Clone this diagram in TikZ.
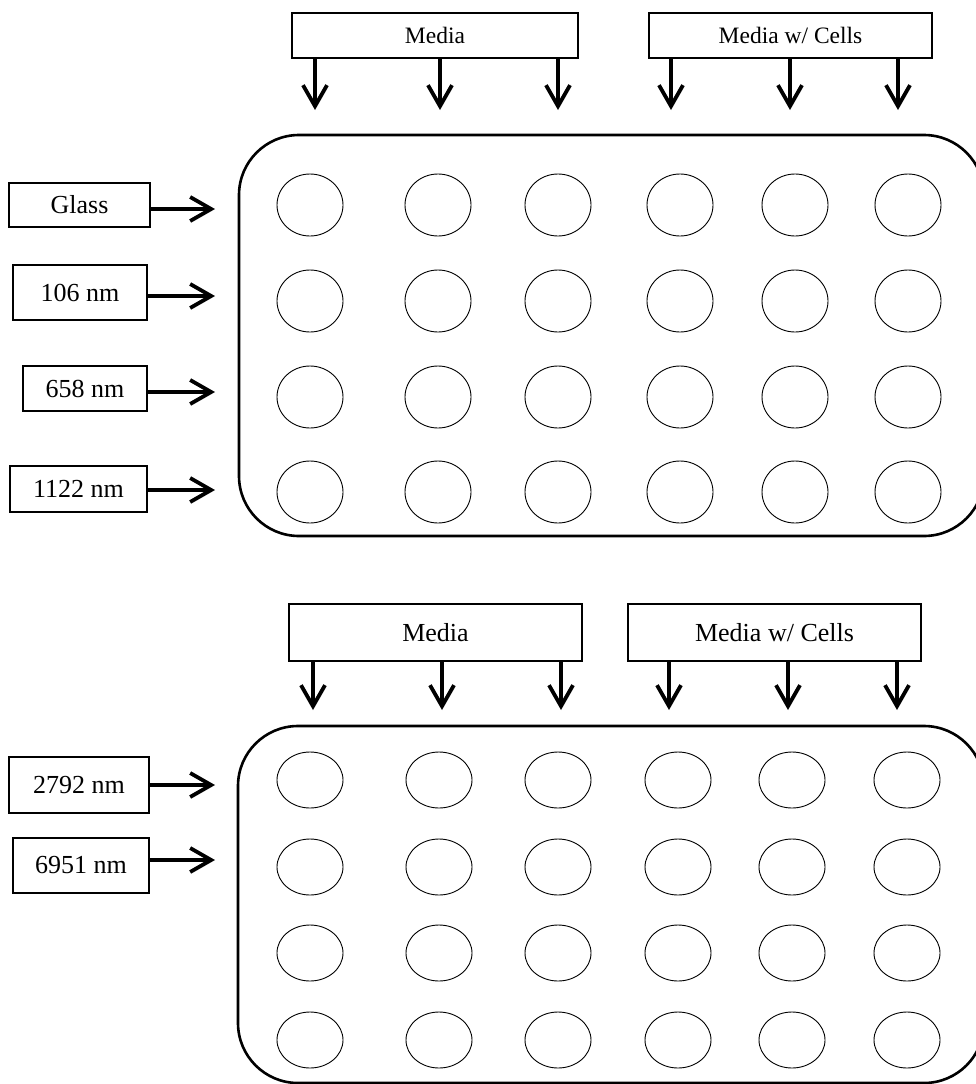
\documentclass[tikz,border=0pt]{standalone}
\usepackage{fontspec}
\setmainfont{Liberation Serif}
\usetikzlibrary{arrows.meta,shapes.geometric}
\begin{document}
\begin{tikzpicture}[x=1pt,y=-1pt,
  plate/.style={draw,line width=2.6pt,rounded corners=60pt,inner sep=0pt},
  wellU/.style={draw,ellipse,line width=0.9pt,minimum width=66pt,minimum height=62pt,inner sep=0pt},
  wellL/.style={draw,ellipse,line width=0.9pt,minimum width=66pt,minimum height=56pt,inner sep=0pt},
  lbl/.style={draw,line width=1.6pt,inner sep=0pt,font=\fontsize{26}{30}\selectfont},
  lblsmall/.style={lbl,font=\fontsize{23.5}{28}\selectfont},
  arrowline/.style={line width=3.8pt,-{Straight Barb[length=21pt,width=24pt]}}]
\useasboundingbox (0,0) rectangle (975,1084);
% ---------- upper plate ----------
\node[plate,minimum width=745pt,minimum height=401pt] (plateU) at (611.5,335.5) {};
\foreach \r/\y in {1/205,2/301,3/397,4/492}{
  \foreach \c/\x in {1/310,2/438,3/558,4/680,5/795,6/908}{
    \node[wellU] (u\r\c) at (\x,\y) {};
  }
}
\node[lblsmall,minimum width=286pt,minimum height=45pt] (mediaU) at (435,35.5) {Media};
\node[lblsmall,minimum width=283pt,minimum height=45pt] (cellsU) at (790.5,35.5) {Media w/ Cells};
\foreach \i/\x in {1/315,2/440,3/558}{
  \coordinate (tmU\i) at (\x,110);
  \draw[arrowline] (tmU\i |- mediaU.south) -- (tmU\i);
}
\foreach \i/\x in {1/671,2/790,3/898}{
  \coordinate (tcU\i) at (\x,110);
  \draw[arrowline] (tcU\i |- cellsU.south) -- (tcU\i);
}
\node[lbl,minimum width=141pt,minimum height=44pt] (glass) at (79.5,205) {Glass};
\node[lbl,minimum width=134pt,minimum height=55pt] (n106) at (80,292.5) {106 nm};
\node[lbl,minimum width=124pt,minimum height=45pt] (n658) at (85,388.5) {658 nm};
\node[lbl,minimum width=137pt,minimum height=46pt] (n1122) at (78.5,489) {1122 nm};
\coordinate (tg) at (215,209);
\coordinate (t106) at (215,296);
\coordinate (t658) at (215,392);
\coordinate (t1122) at (215,490);
\draw[arrowline] (tg -| glass.east) -- (tg);
\draw[arrowline] (t106 -| n106.east) -- (t106);
\draw[arrowline] (t658 -| n658.east) -- (t658);
\draw[arrowline] (t1122 -| n1122.east) -- (t1122);
% ---------- lower plate ----------
\node[plate,minimum width=746pt,minimum height=357pt] (plateL) at (611,904.5) {};
\foreach \r/\y in {1/780,2/867,3/953,4/1040}{
  \foreach \c/\x in {1/310,2/439,3/558,4/678,5/792,6/907}{
    \node[wellL] (l\r\c) at (\x,\y) {};
  }
}
\node[lbl,minimum width=293pt,minimum height=57pt] (mediaL) at (435.5,632.5) {Media};
\node[lbl,minimum width=293pt,minimum height=57pt] (cellsL) at (774.5,632.5) {Media w/ Cells};
\foreach \i/\x in {1/313,2/442,3/561}{
  \coordinate (tmL\i) at (\x,710);
  \draw[arrowline] (tmL\i |- mediaL.south) -- (tmL\i);
}
\foreach \i/\x in {1/669,2/788,3/897}{
  \coordinate (tcL\i) at (\x,710);
  \draw[arrowline] (tcL\i |- cellsL.south) -- (tcL\i);
}
\node[lbl,minimum width=140pt,minimum height=56pt] (n2792) at (79,785) {2792 nm};
\node[lbl,minimum width=136pt,minimum height=55pt] (n6951) at (81,865.5) {6951 nm};
\coordinate (t2792) at (215,785);
\coordinate (t6951) at (215,860);
\draw[arrowline] (t2792 -| n2792.east) -- (t2792);
\draw[arrowline] (t6951 -| n6951.east) -- (t6951);
\end{tikzpicture}
\end{document}
